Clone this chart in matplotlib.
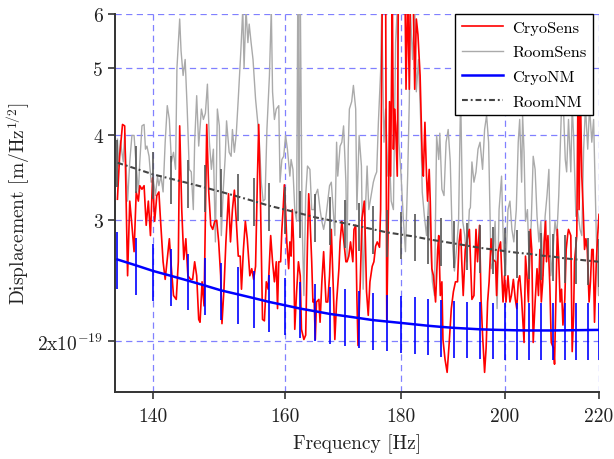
import numpy as np
import matplotlib
matplotlib.use("Agg")
import matplotlib.pyplot as plt
from matplotlib.ticker import NullLocator

plt.rcParams['font.family'] = ['cmr10', 'DejaVu Serif']
plt.rcParams['mathtext.fontset'] = 'cm'
plt.rcParams['axes.unicode_minus'] = False
plt.rcParams['axes.formatter.use_mathtext'] = True

SCALE = 1e-19

# ---- CryoSens (red) ----
cryo_sens_f = [135.0, 135.3, 135.7, 136.0, 136.4, 136.7, 137.0, 137.3, 137.6, 137.9, 138.1, 138.4, 138.7,
               139.0, 139.3, 139.6, 139.9, 140.2, 140.5, 140.8, 141.0, 141.4, 141.7, 142.0, 142.3, 142.6,
               142.9, 143.3, 143.6, 143.8, 144.1, 144.4, 144.7, 145.0, 145.4, 145.7, 146.0, 146.3, 146.6,
               146.8, 147.1, 147.4, 147.8, 148.1, 148.4, 148.7, 149.0, 149.3, 149.6, 149.9, 150.1, 150.4,
               150.7, 151.1, 151.4, 151.7, 152.0, 152.3, 152.6, 152.9, 153.1, 153.4, 153.7, 154.0, 154.4,
               154.7, 155.0, 155.3, 155.6, 155.8, 156.1, 156.4, 156.7, 157.0, 157.3, 157.7, 158.0, 158.3,
               158.6, 158.8, 159.0, 159.3, 159.5, 159.7, 159.9, 160.1, 160.3, 160.6, 160.8, 161.0, 161.2,
               161.4, 161.6, 161.9, 162.2, 162.5, 162.7, 163.1, 163.4, 163.7, 163.9, 164.1, 164.4, 164.6,
               164.8, 165.0, 165.2, 165.6, 165.8, 166.1, 166.4, 166.8, 167.1, 167.4, 167.7, 168.1, 168.3,
               168.6, 169.0, 169.2, 169.5, 169.8, 170.2, 170.4, 170.7, 171.0, 171.4, 171.6, 171.9, 172.1,
               172.3, 172.7, 173.0, 173.4, 173.6, 173.8, 174.1, 174.4, 174.8, 175.1, 175.4, 175.7, 176.1,
               176.3, 176.6, 176.9, 177.2, 177.4, 177.7, 177.9, 178.1, 178.4, 178.6, 178.8, 179.0, 179.3,
               179.5, 180.0, 180.4, 180.7, 180.9, 181.2, 181.5, 181.7, 181.9, 182.2, 182.5, 182.8, 183.1,
               183.5, 183.9, 184.1, 184.4, 184.7, 184.9, 185.2, 185.4, 185.7, 186.0, 186.4, 186.8, 187.0,
               187.3, 187.6, 187.8, 188.2, 188.6, 189.0, 189.4, 189.8, 190.2, 190.6, 190.9, 191.2, 191.4,
               191.7, 192.1, 192.5, 192.9, 193.4, 193.8, 194.2, 194.5, 194.9, 195.2, 195.5, 195.9, 196.2,
               196.5, 196.8, 197.2, 197.6, 198.1, 198.3, 198.6, 199.1, 199.3, 199.6, 199.9, 200.2, 200.6,
               201.0, 201.3, 201.7, 202.1, 202.4, 202.7, 203.0, 203.4, 203.9, 204.2, 204.5, 204.8, 205.2,
               205.5, 205.8, 206.2, 206.6, 206.9, 207.2, 207.5, 207.8, 208.1, 208.4, 208.6, 208.9, 209.3,
               209.6, 210.1, 210.3, 210.6, 210.9, 211.2, 211.5, 211.8, 212.1, 212.5, 212.8, 213.1, 213.3,
               213.8, 214.1, 214.4, 214.6, 215.1, 215.4, 215.6, 215.9, 216.2, 216.5, 216.8, 217.1, 217.4,
               217.8, 218.1, 218.4, 218.7, 219.0, 219.4, 219.7, 220.0]
cryo_sens_v = [3.22, 3.72, 4.14, 4.12, 2.49, 3.20, 2.95, 2.70, 3.30, 3.20, 3.37, 3.33, 3.37,
               2.95, 3.20, 2.85, 3.46, 2.99, 3.26, 3.30, 3.04, 2.61, 2.46, 2.63, 2.82, 2.55,
               2.33, 2.30, 2.61, 4.12, 3.11, 2.63, 2.82, 2.49, 2.46, 2.46, 2.61, 2.49, 2.15,
               2.13, 2.44, 2.25, 4.14, 3.30, 2.95, 2.91, 2.99, 3.00, 2.79, 2.49, 2.12, 2.38,
               2.79, 3.28, 2.79, 3.11, 3.32, 2.99, 2.66, 2.66, 2.38, 2.72, 2.99, 2.82, 2.49,
               2.55, 2.46, 2.57, 3.48, 4.14, 3.11, 2.15, 2.14, 2.44, 2.38, 2.85, 2.61, 2.44,
               2.61, 2.23, 2.61, 2.61, 2.91, 3.11, 3.38, 3.11, 2.79, 2.55, 2.79, 2.66, 3.11,
               2.79, 2.08, 2.36, 2.61, 2.49, 2.08, 2.01, 2.04, 2.79, 3.28, 3.04, 2.61, 2.28,
               2.30, 2.01, 2.28, 2.30, 2.13, 2.44, 2.70, 2.28, 2.28, 2.49, 2.91, 2.30, 2.01,
               2.28, 2.55, 2.79, 2.99, 2.82, 2.61, 2.61, 2.66, 2.79, 2.61, 2.91, 2.95, 2.33,
               1.97, 2.44, 3.02, 3.20, 2.79, 2.36, 2.18, 2.44, 2.57, 2.61, 2.75, 2.79, 2.74,
               3.11, 6.50, 6.50, 6.50, 2.13, 3.11, 4.47, 3.48, 6.50, 3.81, 4.36, 4.12, 3.48,
               6.50, 6.50, 6.50, 6.50, 4.66, 6.50, 4.66, 6.50, 6.50, 6.50, 4.66, 5.90, 5.60,
               4.88, 3.68, 3.48, 4.17, 3.48, 3.20, 3.56, 3.20, 2.55, 2.49, 2.28, 2.72, 2.85,
               2.33, 2.44, 2.01, 1.88, 1.80, 1.99, 2.23, 2.36, 2.44, 2.44, 2.79, 2.91, 2.63,
               2.33, 2.72, 2.82, 2.91, 2.30, 2.33, 2.91, 2.61, 2.95, 2.30, 2.04, 1.80, 1.95,
               2.28, 2.44, 2.82, 2.63, 2.61, 2.33, 2.70, 2.79, 2.55, 2.28, 2.49, 2.28, 2.49,
               2.28, 2.33, 2.46, 2.30, 2.23, 2.44, 2.49, 2.30, 1.99, 2.66, 2.49, 2.28, 2.91,
               2.72, 1.99, 2.28, 2.55, 2.33, 2.72, 2.28, 2.44, 2.79, 2.99, 2.61, 2.85, 2.41,
               1.99, 1.95, 1.85, 2.33, 2.91, 2.63, 2.28, 2.38, 2.11, 2.30, 2.72, 2.85, 2.91,
               2.85, 1.93, 2.18, 2.61, 2.85, 5.00, 3.11, 4.60, 3.48, 3.11, 2.72, 2.82, 2.72,
               2.28, 2.44, 2.72, 2.72, 2.13, 2.61, 2.85, 3.06]

# ---- RoomSens (grey) ----
room_sens_f = [135.0, 135.2, 135.4, 135.8, 136.0, 136.4, 136.7, 137.0, 137.3, 137.6, 137.9, 138.1, 138.4,
               138.7, 138.9, 139.1, 139.4, 139.7, 140.0, 140.3, 140.6, 140.8, 141.1, 141.4, 141.7, 142.0,
               142.3, 142.6, 142.9, 143.2, 143.4, 143.8, 144.0, 144.3, 144.6, 144.9, 145.2, 145.5, 145.8,
               146.0, 146.3, 146.6, 147.0, 147.3, 147.6, 147.9, 148.2, 148.5, 148.8, 149.1, 149.4, 149.7,
               150.0, 150.3, 150.6, 150.8, 151.2, 151.5, 151.7, 152.0, 152.3, 152.6, 153.0, 153.3, 153.5,
               153.8, 154.1, 154.3, 154.6, 154.9, 155.3, 155.6, 155.9, 156.2, 156.5, 156.8, 157.1, 157.5,
               157.8, 158.0, 158.3, 158.6, 159.0, 159.2, 159.5, 159.8, 160.1, 160.4, 160.8, 161.0, 161.3,
               161.6, 161.9, 162.1, 162.3, 162.5, 162.8, 163.1, 163.4, 163.7, 164.1, 164.4, 164.8, 165.0,
               165.4, 165.8, 166.1, 166.4, 166.8, 167.1, 167.4, 167.7, 168.1, 168.3, 168.6, 168.8, 169.2,
               169.5, 169.8, 170.2, 170.4, 170.6, 170.8, 171.2, 171.5, 171.9, 172.1, 172.5, 172.9, 173.2,
               173.6, 173.9, 174.2, 174.6, 175.0, 175.3, 175.6, 175.9, 176.3, 176.5, 176.9, 177.2, 177.6,
               177.9, 178.2, 178.6, 179.0, 179.3, 179.6, 180.0, 180.4, 180.8, 181.2, 181.5, 181.7, 182.1,
               182.5, 182.8, 183.2, 183.6, 183.9, 184.3, 184.7, 185.1, 185.4, 185.8, 186.2, 186.6, 187.0,
               187.2, 187.6, 188.0, 188.4, 188.8, 189.2, 189.6, 190.0, 190.4, 190.8, 191.2, 191.6, 192.0,
               192.4, 192.9, 193.1, 193.4, 193.8, 194.2, 194.6, 195.0, 195.5, 195.9, 196.3, 196.7, 197.2,
               197.6, 198.0, 198.4, 198.8, 199.3, 199.7, 200.1, 200.6, 201.0, 201.4, 201.8, 202.3, 202.7,
               203.0, 203.4, 203.6, 203.9, 204.2, 204.6, 205.0, 205.4, 205.8, 206.2, 206.6, 207.0, 207.4,
               207.9, 208.3, 208.7, 209.1, 209.5, 209.9, 210.4, 210.8, 211.2, 211.5, 211.8, 212.2, 212.6,
               212.9, 213.3, 213.8, 214.1, 214.4, 214.9, 215.3, 215.8, 216.2, 216.6, 217.0, 217.5, 217.9,
               218.4, 218.8, 219.4, 219.9, 220.0]
room_sens_v = [3.94, 3.60, 3.92, 3.65, 4.02, 3.20, 3.65, 3.99, 3.99, 3.60, 3.30, 3.65, 4.12,
               4.14, 3.81, 3.85, 3.72, 3.41, 3.44, 3.26, 3.48, 3.37, 3.48, 3.30, 3.90, 4.41,
               4.21, 3.65, 3.77, 3.56, 5.00, 5.90, 5.30, 4.88, 5.15, 4.36, 3.56, 3.53, 3.11,
               3.90, 4.56, 3.85, 4.36, 4.21, 4.30, 4.74, 3.90, 3.56, 3.81, 2.79, 4.36, 4.12,
               2.85, 3.33, 3.72, 4.19, 3.77, 3.72, 4.07, 3.77, 4.02, 4.51, 5.30, 6.10, 5.00,
               6.10, 5.45, 5.80, 5.45, 5.15, 4.51, 4.21, 3.90, 3.41, 3.20, 3.22, 4.07, 4.88,
               6.10, 4.62, 4.21, 4.36, 4.41, 3.41, 3.68, 3.72, 3.99, 3.81, 3.48, 3.68, 3.56,
               3.11, 2.99, 6.50, 2.99, 6.50, 3.02, 2.33, 3.26, 3.60, 3.56, 3.11, 3.11, 3.26,
               3.33, 3.11, 2.99, 2.91, 3.04, 3.20, 3.37, 3.41, 3.04, 2.85, 3.90, 3.48, 3.85,
               3.90, 4.12, 3.41, 2.63, 3.81, 4.36, 4.47, 4.72, 4.36, 3.11, 3.99, 3.60, 2.38,
               3.11, 3.60, 3.11, 3.26, 3.41, 3.48, 3.53, 4.17, 4.95, 6.10, 3.90, 4.36, 3.48,
               3.68, 3.20, 3.11, 5.45, 6.10, 3.90, 3.48, 3.02, 2.70, 3.48, 4.47, 6.10, 5.15,
               6.10, 4.62, 5.15, 4.21, 3.30, 3.04, 2.85, 3.20, 2.85, 2.44, 2.33, 3.99, 3.68,
               4.02, 3.33, 3.26, 3.90, 4.07, 3.65, 2.79, 2.53, 2.72, 2.99, 4.60, 2.99, 2.85,
               2.61, 3.11, 3.13, 3.65, 3.41, 3.53, 3.81, 3.90, 3.56, 4.07, 4.27, 3.90, 2.55,
               2.61, 2.99, 2.23, 3.11, 3.48, 2.72, 2.49, 3.11, 3.20, 2.91, 2.79, 3.11, 3.90,
               4.21, 3.41, 4.27, 3.77, 2.99, 3.11, 2.55, 2.99, 3.72, 3.56, 3.04, 2.79, 2.99,
               2.49, 3.04, 3.26, 3.56, 2.49, 2.66, 2.99, 2.85, 3.26, 3.81, 4.40, 4.40, 3.68,
               3.53, 4.21, 3.53, 4.40, 3.99, 3.04, 3.11, 2.91, 2.85, 3.81, 4.40, 3.81, 4.40,
               3.90, 4.21, 2.85, 2.33, 2.66]

# ---- Noise models (with error bars every 2.5 Hz) ----
nm_f = [135.0, 137.5, 140.0, 142.5, 145.0, 147.5, 150.0, 152.5, 155.0, 157.5, 160.0, 162.5,
        165.0, 167.5, 170.0, 172.5, 175.0, 177.5, 180.0, 182.5, 185.0, 187.5, 190.0, 192.5,
        195.0, 197.5, 200.0, 202.5, 205.0, 207.5, 210.0, 212.5, 215.0, 217.5, 220.0]
cryo_nm_v = [2.63, 2.58, 2.53, 2.49, 2.45, 2.41, 2.37, 2.34, 2.31, 2.28, 2.255, 2.23,
             2.21, 2.19, 2.175, 2.16, 2.145, 2.135, 2.125, 2.115, 2.105, 2.097, 2.09, 2.085,
             2.08, 2.077, 2.075, 2.073, 2.072, 2.072, 2.072, 2.073, 2.074, 2.075, 2.076]
cryo_nm_err = [0.25, 0.245, 0.24, 0.237, 0.233, 0.229, 0.225, 0.222, 0.219, 0.217, 0.214, 0.212,
               0.21, 0.208, 0.207, 0.205, 0.204, 0.203, 0.202, 0.201, 0.2, 0.199, 0.199, 0.198,
               0.198, 0.197, 0.197, 0.197, 0.197, 0.197, 0.197, 0.197, 0.197, 0.197, 0.197]
room_nm_v = [3.64, 3.57, 3.50, 3.45, 3.40, 3.35, 3.30, 3.25, 3.20, 3.15, 3.11, 3.07,
             3.03, 3.00, 2.97, 2.94, 2.91, 2.88, 2.86, 2.84, 2.815, 2.795, 2.775, 2.755,
             2.735, 2.72, 2.705, 2.69, 2.68, 2.665, 2.655, 2.64, 2.63, 2.62, 2.61]
room_nm_err = [0.29, 0.285, 0.28, 0.276, 0.272, 0.268, 0.264, 0.26, 0.256, 0.252, 0.249, 0.246,
               0.242, 0.24, 0.238, 0.235, 0.233, 0.23, 0.229, 0.227, 0.225, 0.224, 0.222, 0.22,
               0.219, 0.218, 0.216, 0.215, 0.214, 0.213, 0.212, 0.211, 0.21, 0.21, 0.209]

x_ticks = [140, 160, 180, 200, 220]
x_tick_labels = ['140', '160', '180', '200', '220']
y_ticks = [2, 3, 4, 5, 6]
y_tick_labels = ['2x10$^{-19}$', '3', '4', '5', '6']

def sc(a):
    return np.asarray(a) * SCALE

fig = plt.figure(figsize=(6.14, 4.6), dpi=100)
ax = fig.add_axes([115 / 614, 1 - 393 / 460, (599 - 115) / 614, (393 - 15) / 460])
ax.set_xscale('log')
ax.set_yscale('log')

grid_col = '#8080ff'
for xv in x_ticks:
    ax.axvline(xv, color=grid_col, lw=0.9, dashes=(5, 3.5), zorder=0.5)
for yv in y_ticks:
    ax.axhline(yv * SCALE, color=grid_col, lw=0.9, dashes=(5, 3.5), zorder=0.5)

l_room, = ax.plot(room_sens_f, sc(room_sens_v), color='#aaaaaa', lw=1.0, label='RoomSens', zorder=2)
l_cryo, = ax.plot(cryo_sens_f, sc(cryo_sens_v), color='#ff0000', lw=1.2, label='CryoSens', zorder=3)

l_cnm, = ax.plot(nm_f, sc(cryo_nm_v), color='#0000ff', lw=1.8, label='CryoNM', zorder=4)
ax.errorbar(nm_f, sc(cryo_nm_v), yerr=sc(cryo_nm_err), fmt='none', ecolor='#0000ff',
            elinewidth=1.2, capsize=0, zorder=4)
l_rnm, = ax.plot(nm_f, sc(room_nm_v), color='#444444', lw=1.5, linestyle=(0, (2.8, 1.4, 0.9, 1.4)),
                 label='RoomNM', zorder=5)
ax.errorbar(nm_f, sc(room_nm_v), yerr=sc(room_nm_err), fmt='none', ecolor='#555555',
            elinewidth=1.2, capsize=0, zorder=5)

ax.set_xlim(134.67, 220)
ax.set_ylim(1.685 * SCALE, 6 * SCALE)

ax.set_xticks(x_ticks)
ax.set_xticklabels(x_tick_labels)
ax.set_yticks([v * SCALE for v in y_ticks])
ax.set_yticklabels(y_tick_labels)
ax.xaxis.set_minor_locator(NullLocator())
ax.yaxis.set_minor_locator(NullLocator())

for s in ['top', 'right']:
    ax.spines[s].set_visible(False)
for s in ['left', 'bottom']:
    ax.spines[s].set_color('#333333')
    ax.spines[s].set_linewidth(1.4)
ax.tick_params(direction='out', length=5, width=1.2, colors='#333333', labelsize=14,
               labelcolor='#222222')
ax.tick_params(axis='x', pad=6)

ax.set_xlabel('Frequency [Hz]', fontsize=14, color='#222222', labelpad=6)
ax.set_ylabel('Displacement [m/Hz$^{1/2}$]', fontsize=14, color='#222222', labelpad=4)

leg = ax.legend([l_cryo, l_room, l_cnm, l_rnm], ['CryoSens', 'RoomSens', 'CryoNM', 'RoomNM'],
                loc='upper right', bbox_to_anchor=(1 - 6 / 484, 1.0), borderaxespad=0,
                fancybox=False, framealpha=1, edgecolor='black', fontsize=11.8,
                handlelength=2.5, handletextpad=0.6, labelspacing=0.62, borderpad=0.38)
leg.get_frame().set_linewidth(1.0)
leg.set_zorder(10)

fig.savefig('out.png', dpi=100)
